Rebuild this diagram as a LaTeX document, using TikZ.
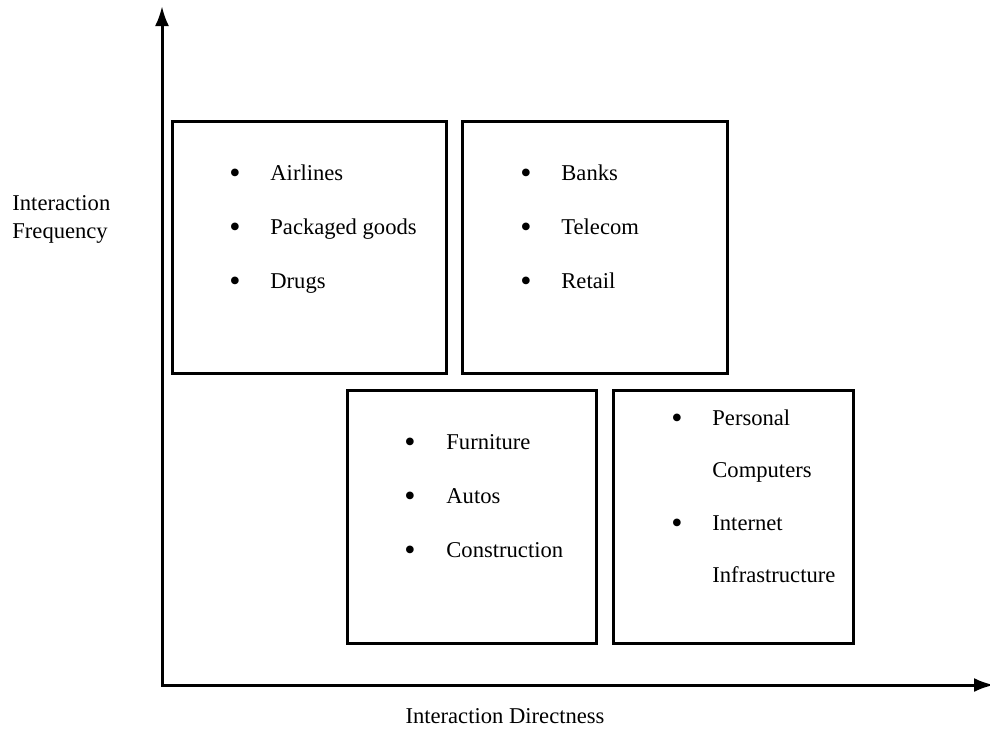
\documentclass[tikz,border=0pt]{standalone}
\usepackage{fontspec}
\setmainfont{Liberation Serif}
\usetikzlibrary{arrows.meta}
\tikzset{
  quadrant/.style = {draw, line width=1.5pt, inner sep=0pt},
  entry/.style = {anchor=base west, inner sep=0pt, font=\fontsize{11.3}{14}\selectfont},
  dot/.style = {anchor=center, yshift=-1.6pt, inner sep=0pt, font=\fontsize{16}{18}\selectfont},
  axislabel/.style = {inner sep=0pt, font=\fontsize{11.3}{14}\selectfont}
}

\begin{document}
\begin{tikzpicture}[x=0.5pt,y=0.5pt]
  \useasboundingbox (0,0) rectangle (990,-729);
  % axes
  \coordinate (top) at (162,-6);
  \coordinate (O) at (162,-685);
  \coordinate (right) at (994,-685);
  \draw[line width=1.5pt,{Latex[length=10pt,width=7pt]}-{Latex[length=10pt,width=7pt]}] (top) -- (O) -- (right);
  \node[axislabel,anchor=base west] (freq1) at (12,-210) {Interaction};
  \node[axislabel,anchor=base west] (freq2) at (12,-238) {Frequency};
  \node[axislabel,anchor=base] (direct) at (505,-723) {Interaction Directness};
  % quadrants
  \node[quadrant,minimum width=137pt,minimum height=126pt] (q1) at (309,-247) {};
  \node[quadrant,minimum width=132.5pt,minimum height=126pt] (q2) at (594.5,-247) {};
  \node[quadrant,minimum width=124.5pt,minimum height=126.5pt] (q3) at (471.5,-516.5) {};
  \node[quadrant,minimum width=120pt,minimum height=126.5pt] (q4) at (733,-516.5) {};
  % entries
  \foreach \txt [count=\i] in {Airlines, Packaged goods, Drugs} {
    \node[dot] at (235,{-173-54*(\i-1)}) {\textbullet};
    \node[entry] (a\i) at (270,{-180-54*(\i-1)}) {\txt};
  }
  \foreach \txt [count=\i] in {Banks, Telecom, Retail} {
    \node[dot] at (526,{-173-54*(\i-1)}) {\textbullet};
    \node[entry] (b\i) at (561,{-180-54*(\i-1)}) {\txt};
  }
  \foreach \txt [count=\i] in {Furniture, Autos, Construction} {
    \node[dot] at (410,{-442-54*(\i-1)}) {\textbullet};
    \node[entry] (c\i) at (446,{-449-54*(\i-1)}) {\txt};
  }
  \node[dot] at (677,-418) {\textbullet};
  \node[entry] (d1) at (712,-425) {Personal};
  \node[entry] (d2) at (712,-477.5) {Computers};
  \node[dot] at (677,-523) {\textbullet};
  \node[entry] (d3) at (712,-530) {Internet};
  \node[entry] (d4) at (712,-582.5) {Infrastructure};
\end{tikzpicture}
\end{document}
